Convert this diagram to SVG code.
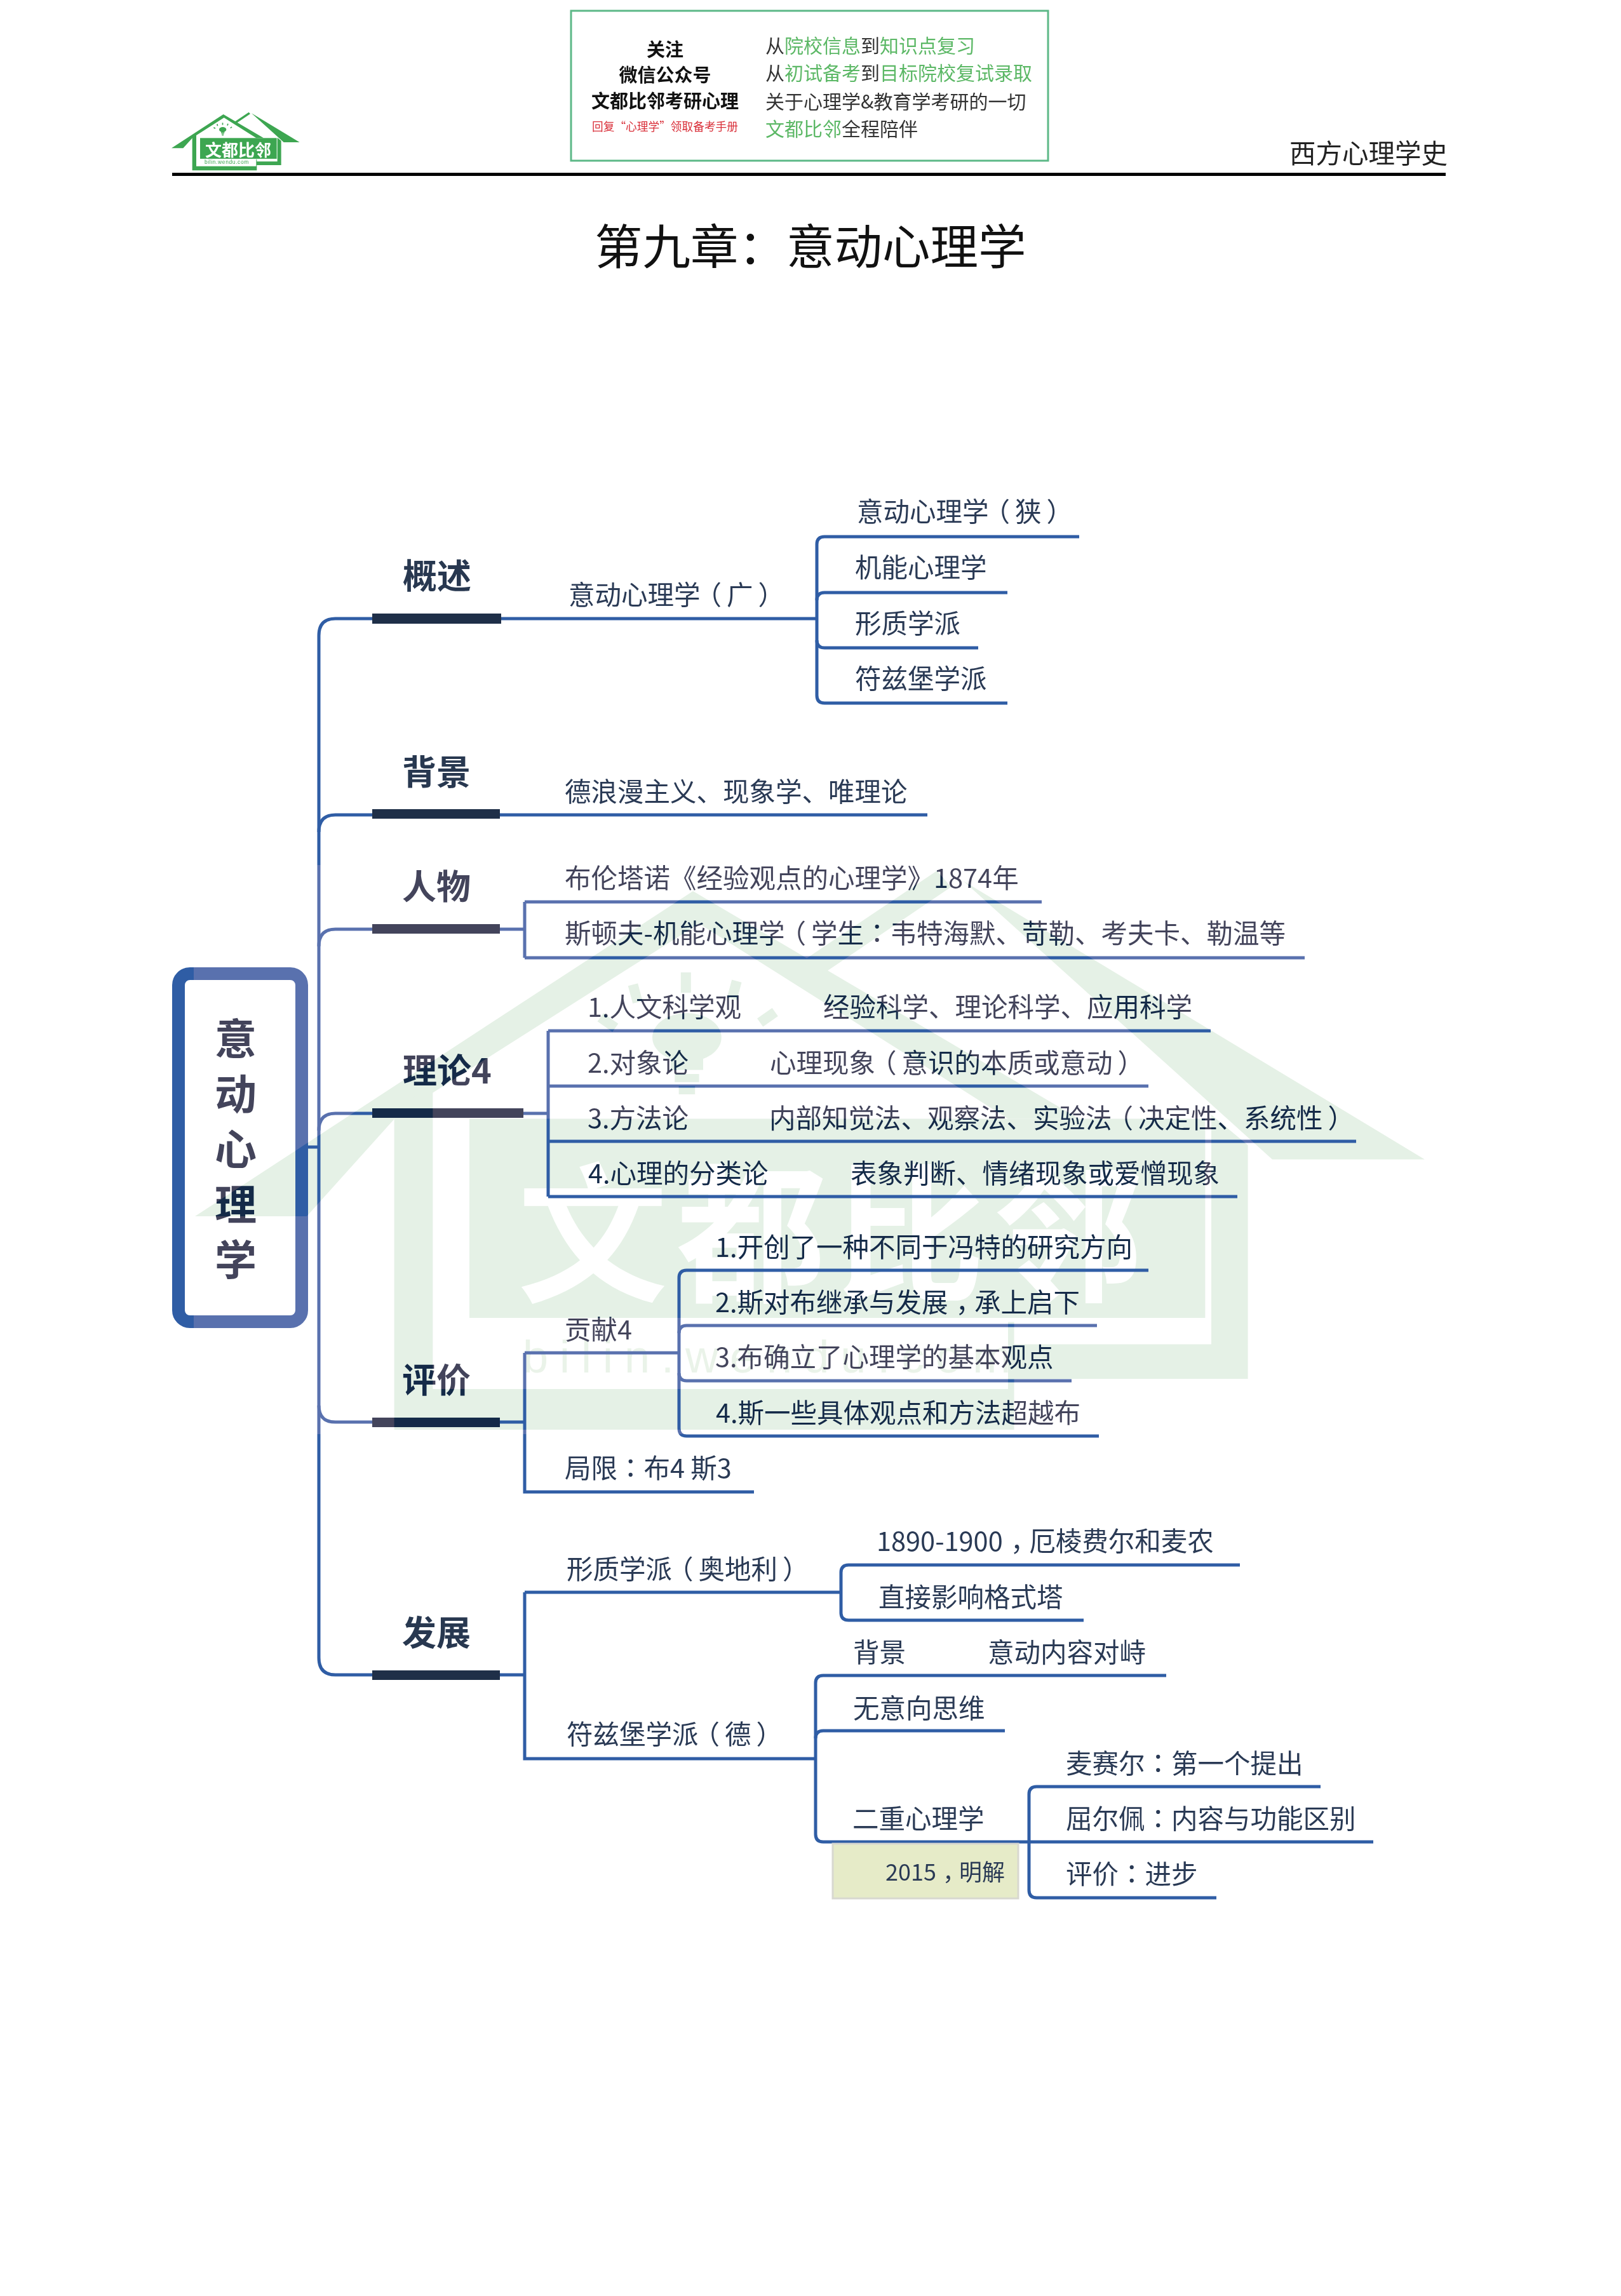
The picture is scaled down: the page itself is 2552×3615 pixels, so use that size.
<svg xmlns="http://www.w3.org/2000/svg" width="2552" height="3615" viewBox="0 0 2552 3615">
<style>
text{font-family:"Noto Sans CJK SC","Noto Sans",sans-serif;fill:#2a3a55;font-size:41.5px}
.topic{font-size:54px;font-weight:700;fill:#283850}
.root{font-size:66px;font-weight:700;text-anchor:middle}
.bar{fill:#1f2f48}
.in text,.in .bar{fill:#142a48}
.wire{fill:none;stroke:#2f5da5;stroke-width:5}
.g{fill:#5cb866}
.tc{font-family:"Noto Sans CJK TC","Noto Sans",sans-serif}
.hd{font-size:29px;font-weight:700;fill:#111;text-anchor:middle}
.hr{font-size:30px;fill:#333}
</style>
<defs>
<g id="logo-shapes">
<polygon points="90,220 335,60 525,172 490,172 338,76 190,170 145,220"/>
<polygon points="468,55 695,192 620,192"/>
<polygon points="388,95 455,50 462,58 400,100"/>
<polygon points="188,168 207,155 207,305 490,305 490,272 493,272 493,325 188,325"/>
<rect x="225" y="172" width="362" height="98"/>
<polygon points="590,170 608,185 608,300 492,300 492,283 590,283"/>
<ellipse cx="332" cy="132" rx="17" ry="12"/>
<rect x="324" y="142" width="16" height="6"/>
<rect x="326" y="150" width="12" height="4"/>
<rect x="328" y="156" width="8" height="4"/>
<rect x="289" y="122" width="9" height="5" transform="rotate(35 293 124)"/>
<rect x="304" y="106" width="5" height="9" transform="rotate(-15 306 110)"/>
<rect x="329" y="100" width="5" height="10"/>
<rect x="353" y="104" width="5" height="9" transform="rotate(15 355 108)"/>
<rect x="367" y="120" width="9" height="5" transform="rotate(-35 371 122)"/>
</g>
<mask id="wm-mask" maskUnits="userSpaceOnUse" x="305" y="1362" width="1945" height="896">
<rect x="305" y="1362" width="1945" height="896" fill="#fff"/>
<use href="#logo-shapes" transform="translate(19 1211) scale(3.2)" fill="#000"/>
</mask>
</defs>
<rect id="page" width="2552" height="3615" fill="#fff"/>

<g id="watermark">
<use href="#logo-shapes" transform="translate(19 1211) scale(3.2)" fill="#e5f1e6"/>
<text x="815" y="2032" style="font-size:236px;font-weight:700;letter-spacing:14px;fill:#fff">文都比邻</text>
<text x="823" y="2161" style="font-family:'Liberation Sans',sans-serif;font-size:72px;letter-spacing:18px;fill:#e5f1e6">bilin.wendu.com</text>
</g>

<g id="header">
<g id="logo">
<use href="#logo-shapes" transform="translate(240 160) scale(.3333)" fill="#3da651"/>
<text x="323" y="246" style="font-size:26px;font-weight:700;fill:#fff">文都比邻</text>
<text x="322" y="258" style="font-family:'Liberation Sans',sans-serif;font-size:8.5px;letter-spacing:.6px;fill:#3da651">bilin.wendu.com</text>
</g>
<g id="qr-box">
<rect x="899" y="17" width="751" height="236" fill="#fff" stroke="#5cb887" stroke-width="3"/>
<text class="hd" x="1047" y="89">关注</text>
<text class="hd" x="1047" y="129">微信公众号</text>
<text class="hd" x="1047" y="170">文都比邻考研心理</text>
<text x="1047" y="206" style="font-size:17.7px;fill:#d9303a;text-anchor:middle">回复“心理学”领取备考手册</text>
<text class="hr" x="1205" y="83">从<tspan class="g">院校信息</tspan>到<tspan class="g">知识点复习</tspan></text>
<text class="hr" x="1205" y="126">从<tspan class="g">初试备考</tspan>到<tspan class="g">目标院校复试录取</tspan></text>
<text class="hr" x="1205" y="171">关于心理学&amp;教育学考研的一切</text>
<text class="hr" x="1205" y="214"><tspan class="g">文都比邻</tspan>全程陪伴</text>
</g>
<text id="running-title" x="2030" y="257" style="fill:#222">西方心理学史</text>
<rect id="header-rule" x="271" y="272" width="2005" height="5" fill="#000"/>
<text id="title" x="936" y="416" style="font-size:75.5px;fill:#111">第九章：意动心理学</text>
</g>

<g id="connectors">
<path class="wire" d="M484 1806H502"/>
<path class="wire" d="M502 1806V1001Q502 974 528 974H1286"/>
<path class="wire" d="M502 1310Q502 1283 528 1283H1460"/>
<path class="wire" d="M502 1490Q502 1463 528 1463H826"/>
<path class="wire" d="M502 1780Q502 1753 528 1753H863"/>
<path class="wire" d="M502 1806V2610Q502 2637 528 2637H826"/>
<path class="wire" d="M502 2213Q502 2239 528 2239H826"/>
<path class="wire" d="M1286 974V857Q1286 845 1298 845H1699"/>
<path class="wire" d="M1286 945Q1286 933 1298 933H1586"/>
<path class="wire" d="M1286 974V1095Q1286 1107 1298 1107H1586"/>
<path class="wire" d="M1286 1008Q1286 1020 1298 1020H1540"/>
<path class="wire" d="M826 1508H2054M826 1420V1508M826 1420H1640"/>
<path class="wire" d="M863 1623V1884M863 1623H1906M863 1710H1808M863 1797H2135M863 1884H1948"/>
<path class="wire" d="M826 2130V2349H1187M826 2130H1069"/>
<path class="wire" d="M1069 2130V2012Q1069 2000 1081 2000H1808"/>
<path class="wire" d="M1069 2099Q1069 2087 1081 2087H1727"/>
<path class="wire" d="M1069 2130V2249Q1069 2261 1081 2261H1730"/>
<path class="wire" d="M1069 2162Q1069 2174 1081 2174H1687"/>
<path class="wire" d="M826 2507V2769H1284M826 2507H1324"/>
<path class="wire" d="M1324 2507V2476Q1324 2464 1336 2464H1952"/>
<path class="wire" d="M1324 2507V2539Q1324 2551 1336 2551H1706"/>
<path class="wire" d="M1284 2769V2650Q1284 2638 1296 2638H1836"/>
<path class="wire" d="M1284 2737Q1284 2725 1296 2725H1582"/>
<path class="wire" d="M1284 2769V2888Q1284 2900 1296 2900H2162"/>
<path class="wire" d="M1620 2900V2825Q1620 2813 1632 2813H2079"/>
<path class="wire" d="M1620 2900V2976Q1620 2988 1632 2988H1915"/>
</g>

<g id="root" class="in">
<rect x="281" y="1533" width="194" height="548" rx="18" fill="none" stroke="#2f5da5" stroke-width="20"/>
<text class="root" x="371" y="1660">意</text>
<text class="root" x="371" y="1747">动</text>
<text class="root" x="371" y="1834">心</text>
<text class="root" x="371" y="1921">理</text>
<text class="root" x="371" y="2008">学</text>
</g>

<g id="topic-gaishu"><rect class="bar" x="586" y="966" width="203" height="16"/><text class="topic" x="634" y="927">概述</text></g>
<g id="topic-beijing"><rect class="bar" x="586" y="1274" width="201" height="15"/><text class="topic" x="633" y="1236">背景</text></g>
<g id="topic-renwu" class="in"><rect class="bar" x="586" y="1455" width="201" height="15"/><text class="topic" x="633" y="1416">人物</text></g>
<g id="topic-lilun" class="in"><rect class="bar" x="586" y="1745" width="238" height="15"/><text class="topic" x="634" y="1706">理论4</text></g>
<g id="topic-pingjia" class="in"><rect class="bar" x="586" y="2232" width="201" height="15"/><text class="topic" x="633" y="2193">评价</text></g>
<g id="topic-fazhan"><rect class="bar" x="586" y="2630" width="201" height="15"/><text class="topic" x="633" y="2591">发展</text></g>

<g id="n-guang"><text x="895" y="952">意动心理学<tspan dx="-8">（</tspan><tspan dx="8">广</tspan><tspan dx="8">）</tspan></text></g>
<g id="n-xia"><text x="1349" y="821">意动心理学<tspan dx="-8">（</tspan><tspan dx="8">狭</tspan><tspan dx="8">）</tspan></text></g>
<g id="n-jineng"><text x="1346" y="909">机能心理学</text></g>
<g id="n-xingzhi"><text x="1346" y="997">形质学派</text></g>
<g id="n-fuzibao"><text x="1346" y="1084">符兹堡学派</text></g>
<g id="n-beijing"><text x="889" y="1262">德浪漫主义、现象学、唯理论</text></g>
<g id="n-bulunta" class="in"><text x="889" y="1398">布伦塔诺《经验观点的心理学》1874年</text></g>
<g id="n-sidunfu" class="in"><text x="889" y="1485">斯顿夫-机能心理学<tspan dx="-8">（</tspan><tspan dx="8">学</tspan>生<tspan class="tc">：</tspan>韦特海默、苛勒、考夫卡、勒温等</text></g>
<g id="n-t1" class="in"><text x="925" y="1601">1.人文科学观</text><text x="1296" y="1601">经验科学、理论科学、应用科学</text></g>
<g id="n-t2" class="in"><text x="925" y="1689">2.对象论</text><text x="1212" y="1689">心理现象<tspan dx="-8">（</tspan><tspan dx="8">意</tspan>识的本质或意动<tspan dx="8">）</tspan></text></g>
<g id="n-t3" class="in"><text x="925" y="1776">3.方法论</text><text x="1211" y="1776">内部知觉法、观察法、实验法<tspan dx="-8">（</tspan><tspan dx="8">决</tspan>定性、系统性<tspan dx="8">）</tspan></text></g>
<g id="n-t4" class="in"><text x="926" y="1863">4.心理的分类论</text><text x="1339" y="1863">表象判断、情绪现象或爱憎现象</text></g>
<g id="n-gongxian" class="in"><text x="889" y="2109">贡献4</text></g>
<g id="n-g1" class="in"><text x="1126" y="1979">1.开创了一种不同于冯特的研究方向</text></g>
<g id="n-g2" class="in"><text x="1126" y="2066">2.斯对布继承与发展<tspan dx="12">，</tspan><tspan dx="-12">承</tspan>上启下</text></g>
<g id="n-g3" class="in"><text x="1126" y="2152">3.布确立了心理学的基本观点</text></g>
<g id="n-g4" class="in"><text x="1127" y="2240">4.斯一些具体观点和方法超越布</text></g>
<g id="n-juxian"><text x="889" y="2327">局限<tspan class="tc">：</tspan>布4 斯3</text></g>
<g id="n-xz"><text x="892" y="2486">形质学派<tspan dx="-8">（</tspan><tspan dx="8">奥</tspan>地利<tspan dx="8">）</tspan></text></g>
<g id="n-xz1"><text x="1380" y="2442">1890-1900<tspan dx="12">，</tspan><tspan dx="-12">厄</tspan>棱费尔和麦农</text></g>
<g id="n-xz2"><text x="1383" y="2530">直接影响格式塔</text></g>
<g id="n-fz"><text x="892" y="2746">符兹堡学派<tspan dx="-8">（</tspan><tspan dx="8">德</tspan><tspan dx="8">）</tspan></text></g>
<g id="n-fz1"><text x="1343" y="2617">背景</text><text x="1555" y="2617">意动内容对峙</text></g>
<g id="n-fz2"><text x="1343" y="2705">无意向思维</text></g>
<g id="n-fz3"><text x="1342" y="2879">二重心理学</text></g>
<g id="n-eq1"><text x="1678" y="2792">麦赛尔<tspan class="tc">：</tspan>第一个提出</text></g>
<g id="n-eq2"><text x="1678" y="2879">屈尔佩<tspan class="tc">：</tspan>内容与功能区别</text></g>
<g id="n-eq3"><text x="1678" y="2966">评价<tspan class="tc">：</tspan>进步</text></g>
<g id="note">
<rect x="1311" y="2903" width="292" height="86" fill="#e6ebc8" stroke="#d8d8d0" stroke-width="3"/>
<text x="1394" y="2961" style="font-size:36px">2015<tspan dx="10">，</tspan><tspan dx="-10">明</tspan>解</text>
</g>

<rect id="wm-tint" x="305" y="1362" width="1945" height="896" fill="rgb(51,31,26)" mask="url(#wm-mask)" style="mix-blend-mode:screen"/>
</svg>
